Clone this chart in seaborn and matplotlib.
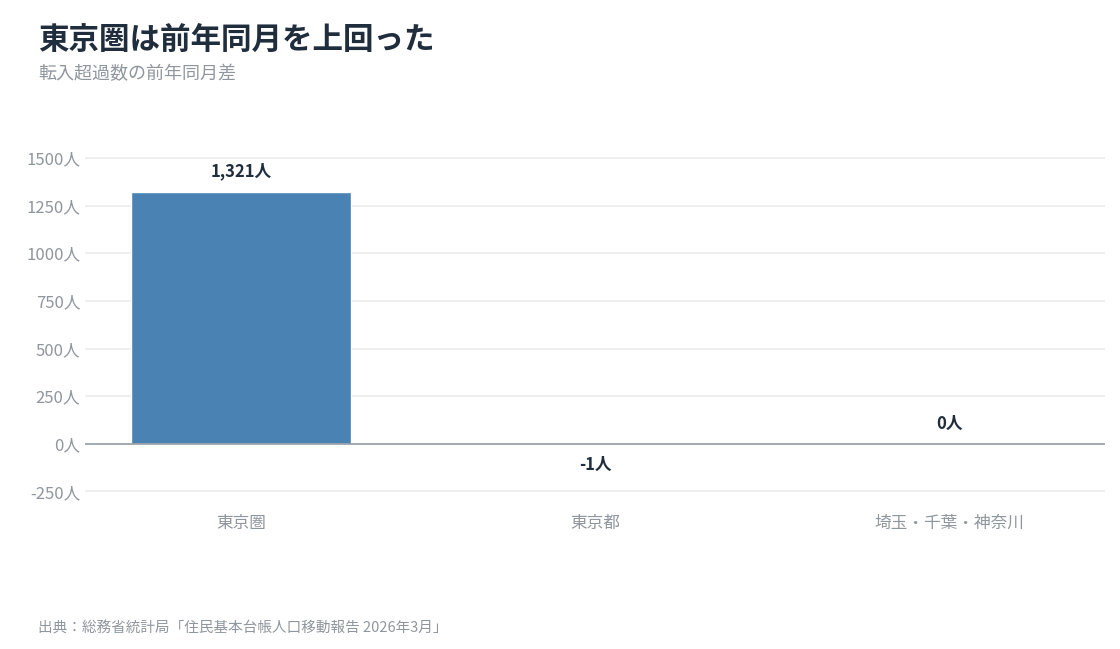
import matplotlib
matplotlib.use("Agg")
import matplotlib.pyplot as plt
import seaborn as sns
import pandas as pd

categories = ["東京圏", "東京都", "埼玉・千葉・神奈川"]
values = [1321, -1, 0]
labels = ["1,321人", "-1人", "0人"]
yticks = [-250, 0, 250, 500, 750, 1000, 1250, 1500]

sns.set_theme(style="white")
plt.rcParams['font.family'] = ['Noto Sans CJK JP', 'DejaVu Sans']

fig = plt.figure(figsize=(11.2, 6.49), dpi=100)
ax = fig.add_axes([0.0759, 0.228, 0.9107, 0.558])
df = pd.DataFrame({"cat": categories, "val": values})
sns.barplot(data=df, x="cat", y="val", color="#4a82b4", width=0.62, saturation=1, ax=ax)
ax.set_xlim(-0.44, 2.44)
ax.set_ylim(-300, 1600)
ax.set_yticks(yticks)
ax.set_yticklabels([f"{t}人" for t in yticks])
for t in yticks:
    if t != 0:
        ax.axhline(t, color="#ebebeb", lw=1.2, zorder=0)
ax.axhline(0, color="#9aa3ad", lw=1.3, zorder=3)
for i, (v, l) in enumerate(zip(values, labels)):
    if v >= 0:
        ax.text(i, v + 60, l, ha="center", va="bottom", fontsize=12, fontweight="bold", color="#1f2d3d")
    else:
        ax.text(i, v - 60, l, ha="center", va="top", fontsize=12, fontweight="bold", color="#1f2d3d")
for s in ax.spines.values():
    s.set_visible(False)
ax.set_xlabel("")
ax.set_ylabel("")
ax.tick_params(axis="both", length=0, labelsize=12, labelcolor="#8f969e")
ax.tick_params(axis="x", pad=10)

fig.text(0.034, 0.925, "東京圏は前年同月を上回った", fontsize=22, fontweight="bold", color="#1f2d3d")
fig.text(0.034, 0.878, "転入超過数の前年同月差", fontsize=13, color="#8f969e")
fig.text(0.034, 0.025, "出典：総務省統計局「住民基本台帳人口移動報告 2026年3月」", fontsize=10.5, color="#8f969e")
fig.savefig("out.png", dpi=100)
